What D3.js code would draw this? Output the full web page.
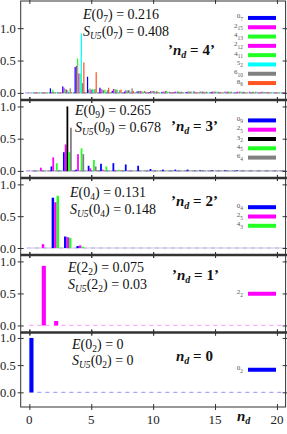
<!DOCTYPE html>
<html>
<head>
<meta charset="utf-8">
<script src="https://cdn.jsdelivr.net/npm/d3@7/dist/d3.min.js"></script>
<style>
  body { margin: 0; background: #fff; }
  svg  { display: block; font-family: 'Liberation Serif', 'Times New Roman', serif; }
</style>
</head>
<body>
<div id="chart"></div>
<script>
// ─── Daten ────────────────────────────────────────────────────────────────────

const ndValues  = d3.range(0, 21);
const xTicks    = [0, 5, 10, 15, 20];
const yTicks    = [0, 0.5, 1.0];

// Panel 'n_d = 4'
const p1Series = [['0','7'], ['2','15'], ['4','13'], ['2','12'], ['4','11'], ['5','2'], ['6','10'], ['8','6']];
const p1Values = [
  [0, 0, 0.07, 0.10, 0.40, 0.25, 0.08, 0.03, 0.02, 0.02, 0.01, 0.01, 0.01, 0.01, 0, 0.01, 0, 0, 0, 0, 0],
  [0, 0, 0.01, 0.08, 0.42, 0.05, 0.06, 0.06, 0.04, 0.03, 0.03, 0.02, 0.02, 0.02, 0.02, 0.02, 0.02, 0.02, 0.02, 0.02, 0],
  [0, 0, 0.05, 0.06, 0.53, 0.07, 0.05, 0.06, 0.04, 0.03, 0.03, 0.02, 0.02, 0.02, 0.02, 0.02, 0.02, 0.01, 0.01, 0.01, 0],
  [0, 0, 0.01, 0.05, 0.30, 0.05, 0.04, 0.05, 0.04, 0.03, 0.03, 0.03, 0.02, 0.02, 0.02, 0.02, 0.02, 0.02, 0.01, 0.01, 0],
  [0, 0, 0.01, 0.04, 0.30, 0.06, 0.05, 0.05, 0.04, 0.03, 0.03, 0.03, 0.02, 0.02, 0.02, 0.02, 0.02, 0.02, 0.02, 0.01, 0],
  [0, 0, 0, 0.01, 0.92, 0.05, 0.01, 0.01, 0, 0, 0, 0, 0, 0, 0, 0, 0, 0, 0, 0, 0],
  [0, 0, 0.01, 0.07, 0.15, 0.06, 0.04, 0.04, 0.07, 0.03, 0.03, 0.02, 0.02, 0.03, 0.02, 0.02, 0.02, 0.02, 0.02, 0.01, 0],
  [0, 0, 0, 0.01, 0.47, 0.32, 0.08, 0.05, 0.03, 0.02, 0.01, 0.01, 0, 0, 0, 0, 0, 0, 0, 0, 0],
];

// Panel 'n_d = 3'
const p2Series = [['0','9'], ['2','5'], ['3','2'], ['4','5'], ['6','4']];
const p2Values = [
  [0, 0, 0.07, 0.29, 0.02, 0.08, 0.11, 0.12, 0.10, 0.08, 0.03, 0.02, 0.02, 0.02, 0.01, 0.01, 0.01, 0.01, 0, 0, 0],
  [0, 0.05, 0.21, 0.41, 0.26, 0.04, 0.02, 0.01, 0, 0, 0, 0, 0, 0, 0, 0, 0, 0, 0, 0, 0],
  [0, 0, 0, 1.00, 0, 0, 0, 0, 0, 0, 0, 0, 0, 0, 0, 0, 0, 0, 0, 0, 0],
  [0, 0, 0.12, 0.29, 0.35, 0.17, 0.07, 0.02, 0, 0, 0, 0, 0, 0, 0, 0, 0, 0, 0, 0, 0],
  [0, 0, 0, 0.67, 0.26, 0.07, 0, 0, 0, 0, 0, 0, 0, 0, 0, 0, 0, 0, 0, 0, 0],
];

// Panel 'n_d = 2'
const p3Series = [['0','4'], ['2','5'], ['4','3']];
const p3Values = [
  [0, 0, 0.79, 0.18, 0.03, 0, 0, 0, 0, 0, 0, 0, 0, 0, 0, 0, 0, 0, 0, 0, 0],
  [0, 0.06, 0.72, 0.17, 0.04, 0, 0, 0, 0, 0, 0, 0, 0, 0, 0, 0, 0, 0, 0, 0, 0],
  [0, 0, 0.82, 0.16, 0.02, 0, 0, 0, 0, 0, 0, 0, 0, 0, 0, 0, 0, 0, 0, 0, 0],
];

// Panel 'n_d = 1'
const p4Series = [['2','2']];
const p4Values = [
  [0, 0.93, 0.07, 0, 0, 0, 0, 0, 0, 0, 0, 0, 0, 0, 0, 0, 0, 0, 0, 0, 0],
];

// Panel 'n_d = 0'
const p5Series = [['0','2']];
const p5Values = [
  [1.00, 0, 0, 0, 0, 0, 0, 0, 0, 0, 0, 0, 0, 0, 0, 0, 0, 0, 0, 0, 0],
];

// Kennzahlen je Panel
const ndLabels = ['4', '3', '2', '1', '0'];
const eLabels  = [['0','7'], ['0','9'], ['0','4'], ['2','2'], ['0','2']];
const eValues  = ['0.216', '0.265', '0.131', '0.075', '0'];
const sValues  = ['0.408', '0.678', '0.148', '0.03', '0'];

// ─── Farben ───────────────────────────────────────────────────────────────────

const colorOf = {
  '0': '#0000ff', '2': '#ff00ff', '3': '#000000', '4': '#22ff22',
  '5': '#00ffff', '6': '#808080', '8': '#ff5522',
};

// ─── Layout ───────────────────────────────────────────────────────────────────

const W = 287, H = 434;
const left = 20.7, right = 285.6;

const panels = [
  { series: p1Series, values: p1Values, top: 1,     bottom: 100,   yDom: [-0.11, 1.42], quoted: true,  eY: 19,    ndX: 168, ndY: 55,  },
  { series: p2Series, values: p2Values, top: 100,   bottom: 178,   yDom: [-0.11, 1.10], quoted: true,  eY: 115,   ndX: 171, ndY: 131, },
  { series: p3Series, values: p3Values, top: 178,   bottom: 255,   yDom: [-0.11, 1.10], quoted: true,  eY: 197,   ndX: 171, ndY: 206, },
  { series: p4Series, values: p4Values, top: 255,   bottom: 332.5, yDom: [-0.11, 1.10], quoted: true,  eY: 272,   ndX: 172, ndY: 280, },
  { series: p5Series, values: p5Values, top: 332.5, bottom: 407,   yDom: [-0.27, 1.10], quoted: false, eY: 348.5, ndX: 176, ndY: 361, },
];
const eX = [83, 75, 70, 68, 72];

const x = d3.scaleLinear().domain([-0.7, 20.7]).range([left, right]);

const svg = d3.select('#chart').append('svg')
  .attr('width', W)
  .attr('height', H);

panels.forEach((p, k) => {
  const y = d3.scaleLinear().domain(p.yDom).range([p.bottom, p.top]);
  const N = p.series.length;
  const w = 1 / (N + 2);
  const g = svg.append('g');

  // gestrichelte Nulllinien
  p.series.forEach((s, i) => {
    const off = (i - (N - 1) / 2) * w;
    g.append('line')
      .attr('x1', x(0 + off)).attr('x2', x(20.7))
      .attr('y1', y(0)).attr('y2', y(0))
      .attr('stroke', colorOf[s[0]])
      .attr('stroke-opacity', 0.35)
      .attr('stroke-width', 1.2)
      .attr('stroke-dasharray', '4,4')
      .attr('stroke-dashoffset', -i * 1.5);
  });

  // Balken
  p.series.forEach((s, i) => {
    const off = (i - (N - 1) / 2) * w;
    g.selectAll(null)
      .data(ndValues.filter(n => p.values[i][n] > 0))
      .enter().append('rect')
      .attr('x', n => x(n + off))
      .attr('width', x(w) - x(0))
      .attr('y', n => y(p.values[i][n]))
      .attr('height', n => y(0) - y(p.values[i][n]))
      .attr('fill', colorOf[s[0]]);
  });

  // Rahmen
  g.append('rect')
    .attr('x', left).attr('y', p.top)
    .attr('width', right - left).attr('height', p.bottom - p.top)
    .attr('fill', 'none')
    .attr('stroke', '#333')
    .attr('stroke-width', 1);

  // y-Achse links
  const yAxis = g.append('g')
    .attr('transform', `translate(${left},0)`)
    .call(d3.axisLeft(y).tickValues(yTicks).tickFormat(d3.format('.1f')).tickSize(3).tickPadding(2));
  yAxis.select('.domain').remove();
  yAxis.selectAll('line').attr('x1', 3).attr('stroke', '#333');
  yAxis.selectAll('text').attr('font-size', 12.5).attr('font-family', 'Liberation Serif').attr('fill', '#222');

  // y-Ticks rechts
  const yAxisR = g.append('g')
    .attr('transform', `translate(${right},0)`)
    .call(d3.axisRight(y).tickValues(yTicks).tickFormat('').tickSize(3));
  yAxisR.select('.domain').remove();
  yAxisR.selectAll('line').attr('x1', -3).attr('stroke', '#333');

  // x-Ticks oben und unten
  [p.top, p.bottom].forEach(yy => {
    const xa = g.append('g')
      .attr('transform', `translate(0,${yy})`)
      .call(d3.axisBottom(x).tickValues(xTicks).tickFormat('').tickSize(3));
    xa.select('.domain').remove();
    xa.selectAll('line').attr('y1', -3).attr('stroke', '#333');
  });

  // E / S Beschriftung
  const eLab = eLabels[k];
  const et = g.append('text').attr('x', eX[k]).attr('y', p.eY).attr('font-size', 14).attr('fill', '#111');
  et.append('tspan').attr('font-style', 'italic').text('E');
  et.append('tspan').text('(' + eLab[0]);
  et.append('tspan').attr('font-size', 9.5).attr('dy', 3).text(eLab[1]);
  et.append('tspan').attr('dy', -3).text(') = ' + eValues[k]);

  const st = g.append('text').attr('x', eX[k]).attr('y', p.eY + 16.5).attr('font-size', 14).attr('fill', '#111');
  st.append('tspan').attr('font-style', 'italic').text('S');
  st.append('tspan').attr('font-style', 'italic').attr('font-size', 9.5).attr('dy', 3).text('U5');
  st.append('tspan').attr('dy', -3).text('(' + eLab[0]);
  st.append('tspan').attr('font-size', 9.5).attr('dy', 3).text(eLab[1]);
  st.append('tspan').attr('dy', -3).text(') = ' + sValues[k]);

  // n_d Beschriftung
  const nt = g.append('text').attr('x', p.ndX).attr('y', p.ndY)
    .attr('font-size', 15).attr('font-weight', 'bold').attr('fill', '#111');
  if (p.quoted) nt.append('tspan').text('\u2019');
  nt.append('tspan').attr('font-style', 'italic').text('n');
  nt.append('tspan').attr('font-style', 'italic').attr('font-size', 10).attr('dy', 3).text('d');
  nt.append('tspan').attr('dy', -3).text(' = ' + ndLabels[k] + (p.quoted ? '\u2019' : ''));

  // Legende
  const mid = (p.top + p.bottom) / 2;
  const step = 9.3;
  p.series.forEach((s, i) => {
    const ly = mid + (i - (N - 1) / 2) * step;
    g.append('line')
      .attr('x1', 248).attr('x2', 276)
      .attr('y1', ly).attr('y2', ly)
      .attr('stroke', colorOf[s[0]])
      .attr('stroke-width', 4);
    const lt = g.append('text').attr('x', 243).attr('y', ly + 0.5)
      .attr('text-anchor', 'end').attr('font-size', 7).attr('fill', '#555');
    lt.append('tspan').text(s[0]);
    lt.append('tspan').attr('font-size', 5.5).attr('dy', 2.5).text(s[1]);
  });
});

// Trennlinien zwischen den Panels
panels.slice(1).forEach(p => {
  svg.append('line')
    .attr('x1', left).attr('x2', W)
    .attr('y1', p.top).attr('y2', p.top)
    .attr('stroke', '#333')
    .attr('stroke-width', 2.5);
});

// x-Achsenbeschriftung unten
const last = panels[panels.length - 1];
svg.append('g').selectAll('text')
  .data(xTicks)
  .enter().append('text')
  .attr('x', d => x(d))
  .attr('y', last.bottom + 17)
  .attr('text-anchor', 'middle')
  .attr('font-size', 13)
  .attr('fill', '#222')
  .text(d => d);

const xl = svg.append('text').attr('x', 237).attr('y', 421)
  .attr('font-size', 15).attr('font-weight', 'bold').attr('fill', '#111');
xl.append('tspan').attr('font-style', 'italic').text('n');
xl.append('tspan').attr('font-style', 'italic').attr('font-size', 10).attr('dy', 3).text('d');
</script>
</body>
</html>
